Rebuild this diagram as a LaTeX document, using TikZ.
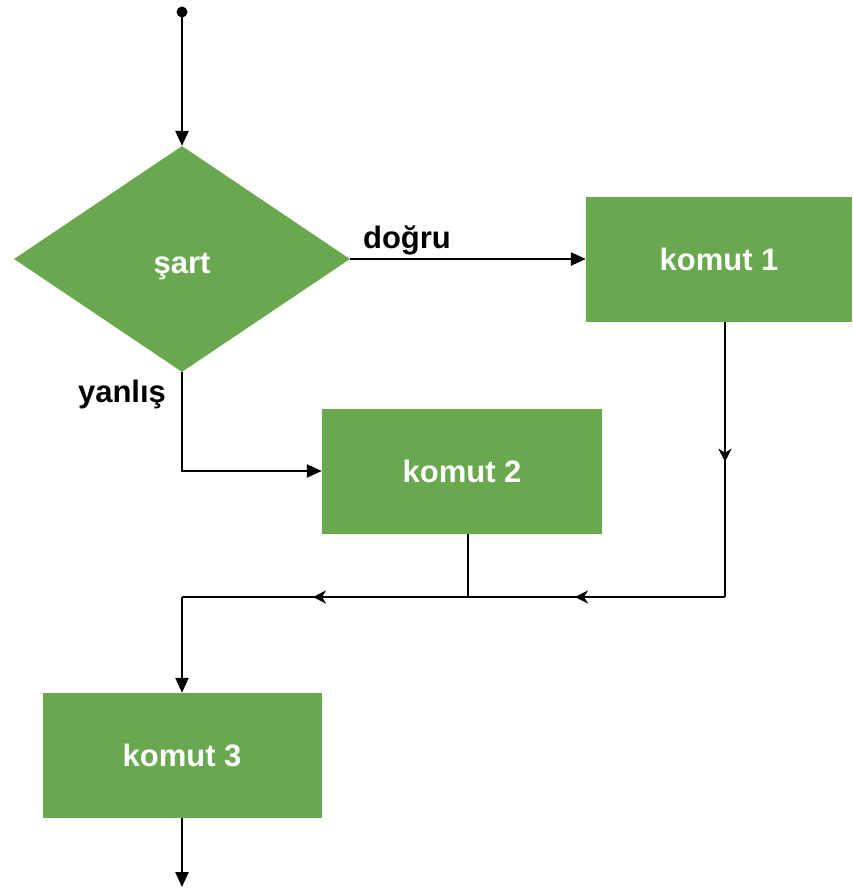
\documentclass[tikz,border=0pt]{standalone}
\usepackage{fontspec}
\setmainfont{Liberation Sans}
\usetikzlibrary{shapes.geometric,arrows.meta,decorations.markings}
\definecolor{boxgreen}{RGB}{106,168,79}
\tikzset{
  flowbox/.style={rectangle, fill=boxgreen, draw=none, minimum width=266pt, minimum height=125pt, inner sep=0pt, text=white, font=\fontsize{31}{36}\selectfont\bfseries},
  decisionbox/.style={diamond, fill=boxgreen, draw=none, minimum width=336pt, minimum height=226pt, inner sep=0pt, text=white, font=\fontsize{31}{36}\selectfont\bfseries},
  edgelabel/.style={anchor=base, inner sep=0pt, font=\fontsize{31}{36}\selectfont\bfseries},
  conn/.style={line width=2.4pt, draw=black},
  endtip/.style={-{Triangle[length=15pt,width=13pt]}},
  midtip/.style={postaction={decorate}, decoration={markings, mark=at position #1 with {\arrow{Stealth[length=13pt,width=13pt,inset=4pt]}}}},
}
\begin{document}
\begin{tikzpicture}[x=1pt,y=-1pt]
\useasboundingbox (0,0) rectangle (853,888);
% nodes
\node[decisionbox] (sart) at (182,259) {};
\node[text=white, font=\fontsize{31}{36}\selectfont\bfseries, inner sep=0pt, anchor=base] (sartlbl) at (182,273) {şart};
\node[flowbox, minimum width=266pt] (k1) at (719,259) {komut 1};
\node[flowbox, minimum width=280pt] (k2) at (462,471) {komut 2};
\node[flowbox, minimum width=279pt] (k3) at (182,755.5) {komut 3};
\coordinate (start) at (182,12);
\fill (start) circle (5.5pt);
\coordinate (fl) at (182,471);
\coordinate (rc) at (725,597);
\coordinate (jn) at (468,597);
\coordinate (lc) at (182,597);
\coordinate (endp) at (182,887);
% labels
\node[edgelabel] (lt) at (407,248) {doğru};
\node[edgelabel] (lf) at (122,402) {yanlış};
% connectors
\draw[conn, endtip] (start) -- (sart.north);
\draw[conn, endtip] (sart.east) -- (k1.west);
\draw[conn, endtip] (sart.south) -- (fl) -- (k2.west);
\draw[conn, midtip=140pt] (k1.south -| rc) -- (rc);
\draw[conn, midtip=150pt] (rc) -- (jn);
\draw[conn] (k2.south -| jn) -- (jn);
\draw[conn, midtip=155pt] (jn) -- (lc);
\draw[conn, endtip] (lc) -- (k3.north);
\draw[conn, endtip] (k3.south) -- (endp);
\end{tikzpicture}
\end{document}
